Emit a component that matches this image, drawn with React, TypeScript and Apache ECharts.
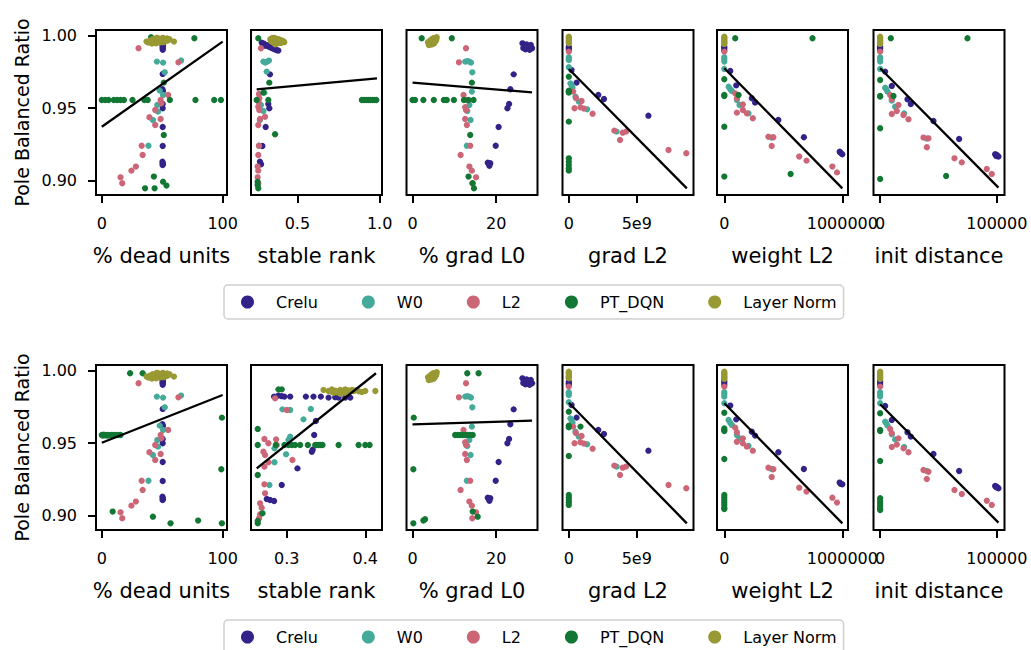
import React, { useEffect, useRef } from "react";
import * as echarts from "echarts";

// ---------- names, colours, ticks ----------
const SERIES_NAMES = ["Crelu", "W0", "L2", "PT_DQN", "Layer Norm"];
const SERIES_COLORS = ["#332288", "#44AA99", "#CC6677", "#117733", "#999933"];
const METRIC_NAMES = ["% dead units", "stable rank", "% grad L0", "grad L2", "weight L2", "init distance"];
const Y_NAME = "Pole Balanced Ratio";
const Y_TICKS = [0.9, 0.95, 1.0];
const Y_TICK_LABELS = ["0.90", "0.95", "1.00"];
const Y_RANGE = [0.8901, 1.0039];

const X_RANGES_ROW1 = [[-4.8, 103.6], [0.2177, 1.0146], [-1.44, 29.9], [-0.465e9, 9.18e9], [-61800, 1048000], [-5700, 106600]];
const X_RANGES_ROW2 = [[-4.8, 103.6], [0.2544, 0.4213], [-1.44, 29.9], [-0.465e9, 9.18e9], [-61800, 1048000], [-5700, 106600]];
const X_TICKS_ROW1 = [[0, 100], [0.5, 1.0], [0, 20], [0, 5e9], [0, 1000000], [0, 100000]];
const X_TICKS_ROW2 = [[0, 100], [0.3, 0.4], [0, 20], [0, 5e9], [0, 1000000], [0, 100000]];
const X_TICK_LABELS_ROW1 = [["0", "100"], ["0.5", "1.0"], ["0", "20"], ["0", "5e9"], ["0", "1000000"], ["0", "100000"]];
const X_TICK_LABELS_ROW2 = [["0", "100"], ["0.3", "0.4"], ["0", "20"], ["0", "5e9"], ["0", "1000000"], ["0", "100000"]];

// ---------- % dead units ----------
const CRELU_DEAD = [[50.4,0.9947],[50.2,0.9938],[50.6,0.9929],[50.3,0.992],[50.5,0.9911],[50.4,0.9903],[50.4,0.9736],[50.2,0.963],[50.6,0.9618],[50.4,0.9529],[50.4,0.9499],[50.4,0.937],[50.4,0.9239],[50.2,0.9131],[50.5,0.912],[50.3,0.9108],[50.6,0.9113]];
const W0_DEAD = [[45.6,0.9821],[50.7,0.9814],[65.6,0.9828],[52.1,0.9747],[47.9,0.9621],[50.7,0.9591],[45.9,0.9522],[46.5,0.9476],[42.3,0.9418],[38.6,0.9241]];
const L2_DEAD = [[30.4,0.9913],[63.4,0.9816],[54.9,0.9591],[48.7,0.9556],[49.3,0.9533],[44.2,0.9487],[39.4,0.9437],[48.7,0.9425],[44.2,0.9384],[33.0,0.9241],[33.8,0.9177],[28.2,0.9097],[24.5,0.9069],[15.5,0.9023],[16.9,0.8982]];
const LN_DEAD = [[37,0.9959],[38.5,0.9952],[40,0.9966],[41.5,0.9945],[42,0.9975],[43.5,0.9959],[44.5,0.997],[45,0.9947],[46.5,0.9982],[47,0.9963],[48,0.9952],[49,0.9977],[49.5,0.9966],[50.5,0.9985],[51,0.9955],[52,0.9973],[53,0.9962],[54,0.998],[55,0.9968],[56,0.9975],[45.5,0.9985],[59.7,0.9959]];
const DQN_R1_DEAD = [[40.8,0.9989],[76.6,0.9982],[0,0.9556],[2.8,0.9556],[5.6,0.9556],[9.9,0.9556],[12.7,0.9556],[15.5,0.9556],[18.3,0.9556],[25.4,0.9556],[35.2,0.9556],[38,0.9556],[56.3,0.9556],[77.5,0.9556],[93,0.9556],[98.6,0.9556],[51.3,0.9676],[51.3,0.9315],[43.1,0.9028],[50.7,0.8993],[35.8,0.8947],[43.7,0.8947],[53.5,0.8966]];
const DQN_R2_DEAD = [[23.4,0.9982],[33.8,0.9982],[0,0.9556],[0.8,0.9552],[1.6,0.9558],[2.5,0.9554],[3.4,0.9556],[4.5,0.9552],[5.5,0.9556],[6.8,0.9554],[8.2,0.9556],[10,0.9556],[12,0.9556],[14,0.9556],[15.5,0.9556],[99.4,0.9676],[98.9,0.932],[9,0.9028],[42.3,0.8993],[56.9,0.8947],[79.7,0.8966],[99.4,0.8947]];
const FIT_R1_DEAD = [[0,0.9372],[100,0.9959]];
const FIT_R2_DEAD = [[0,0.9503],[100,0.9832]];

// ---------- stable rank (row 1) ----------
const CRELU_R1_SR = [[0.283,0.9952],[0.29,0.994],[0.297,0.9945],[0.305,0.993],[0.315,0.9935],[0.325,0.9925],[0.335,0.992],[0.345,0.9915],[0.355,0.991],[0.365,0.9905],[0.375,0.99],[0.384,0.9897],[0.333,0.9733],[0.323,0.9529],[0.329,0.9499],[0.307,0.937],[0.287,0.9239],[0.272,0.9131],[0.279,0.9113]];
const W0_R1_SR = [[0.293,0.9821],[0.305,0.9814],[0.315,0.9821],[0.327,0.9828],[0.313,0.9752],[0.299,0.9607],[0.278,0.9522],[0.293,0.948],[0.272,0.9418],[0.266,0.9241]];
const L2_R1_SR = [[0.278,0.9913],[0.266,0.9598],[0.268,0.9568],[0.264,0.9545],[0.262,0.951],[0.268,0.9487],[0.303,0.9441],[0.272,0.9425],[0.262,0.9384],[0.266,0.9241],[0.262,0.9177],[0.258,0.9097],[0.262,0.9069],[0.258,0.9023],[0.262,0.8982]];
const LN_R1_SR = [[0.335,0.9975],[0.345,0.9982],[0.355,0.9985],[0.365,0.998],[0.375,0.9978],[0.385,0.9975],[0.395,0.997],[0.405,0.9966],[0.415,0.9962],[0.42,0.9955],[0.34,0.9962],[0.35,0.9955],[0.36,0.995],[0.37,0.9945],[0.38,0.9947],[0.39,0.9955],[0.4,0.995],[0.41,0.9958],[0.355,0.9968],[0.375,0.9962],[0.395,0.996],[0.365,0.994]];
const DQN_R1_SR = [[0.262,0.9982],[0.329,0.9676],[0.364,0.932],[0.252,0.9556],[0.323,0.9556],[0.293,0.9607],[0.892,0.9556],[0.905,0.9556],[0.918,0.9556],[0.93,0.9556],[0.942,0.9556],[0.955,0.9556],[0.968,0.9556],[0.98,0.9556],[0.258,0.8993],[0.262,0.8947],[0.258,0.897]];
const FIT_R1_SR = [[0.252,0.963],[0.984,0.9706]];

// ---------- stable rank (row 2) ----------
const CRELU_R2_SR = [[0.2838,0.9821],[0.2894,0.9828],[0.2936,0.9824],[0.297,0.9821],[0.3043,0.9821],[0.3243,0.9821],[0.334,0.9821],[0.3434,0.9821],[0.3532,0.9814],[0.3617,0.9817],[0.366,0.9814],[0.3745,0.9814],[0.3809,0.9814],[0.337,0.9653],[0.3349,0.9556],[0.3319,0.9441],[0.333,0.9455],[0.3136,0.9326],[0.2936,0.9211],[0.2745,0.9115],[0.2787,0.9108],[0.2838,0.9101]];
const W0_R2_SR = [[0.2945,0.9733],[0.3043,0.9729],[0.3306,0.9736],[0.3213,0.9664],[0.3043,0.9545],[0.3021,0.9522],[0.2843,0.9464],[0.2991,0.9423],[0.2843,0.9368],[0.2779,0.9211]];
const L2_R2_SR = [[0.2851,0.9809],[0.3,0.9729],[0.2715,0.9529],[0.2766,0.9499],[0.2864,0.9526],[0.2872,0.9487],[0.2702,0.9441],[0.2723,0.9418],[0.3072,0.9384],[0.2766,0.9368],[0.2715,0.9338],[0.2715,0.9216],[0.2723,0.9154],[0.266,0.9085],[0.268,0.9055],[0.266,0.9009],[0.2647,0.8982]];
const LN_R2_SR = [[0.3468,0.9867],[0.3532,0.986],[0.3574,0.9855],[0.3596,0.9848],[0.3617,0.9862],[0.3638,0.9851],[0.366,0.9858],[0.3681,0.9867],[0.3702,0.9853],[0.3723,0.9862],[0.3745,0.9871],[0.3766,0.9855],[0.3787,0.9864],[0.3809,0.9858],[0.383,0.9867],[0.3851,0.986],[0.3872,0.9864],[0.3915,0.9858],[0.3957,0.9853],[0.4,0.986],[0.4128,0.986],[0.3574,0.9871],[0.3681,0.9841],[0.3745,0.9848]];
const DQN_R2_SR = [[0.2894,0.9871],[0.2936,0.9871],[0.263,0.9598],[0.263,0.9487],[0.286,0.9487],[0.297,0.9487],[0.3021,0.9487],[0.3064,0.9487],[0.3106,0.9487],[0.317,0.9487],[0.3268,0.9487],[0.3362,0.9487],[0.3383,0.9487],[0.3404,0.9487],[0.3426,0.9487],[0.3455,0.9487],[0.366,0.9487],[0.3915,0.9487],[0.4,0.9487],[0.4055,0.9487],[0.263,0.928],[0.269,0.9016],[0.263,0.8963],[0.263,0.8947]];
const FIT_R2_SR = [[0.2617,0.9326],[0.4136,0.9982]];

// ---------- % grad L0 ----------
const CRELU_GL0 = [[26.3,0.9947],[26.8,0.9929],[27.3,0.994],[27.8,0.992],[28.3,0.9936],[28.6,0.9913],[27.0,0.9906],[26.5,0.9915],[28.0,0.9903],[27.5,0.993],[24.2,0.9733],[23.4,0.963],[23.1,0.9529],[22.7,0.9499],[20.6,0.937],[19.9,0.9241],[18.0,0.9124],[18.3,0.9113],[18.6,0.912],[18.4,0.9103]];
const W0_GL0 = [[12.6,0.9821],[13.1,0.9824],[13.6,0.9821],[14.0,0.9814],[14.3,0.9747],[14.2,0.9614],[13.6,0.9522],[13.1,0.948],[13.9,0.9418],[13.0,0.9241]];
const L2_GL0 = [[12.8,0.9913],[11.1,0.9816],[12.2,0.9591],[13.0,0.9556],[12.6,0.9506],[12.8,0.9487],[12.6,0.9425],[13.0,0.9384],[13.8,0.9241],[11.5,0.9177],[13.6,0.9097],[14.2,0.9069],[15.2,0.9023],[14.3,0.8982]];
const LN_GL0 = [[3.7,0.9955],[4.0,0.9945],[4.2,0.9965],[4.5,0.995],[4.6,0.9975],[4.8,0.996],[5.0,0.9982],[5.1,0.9945],[5.3,0.997],[5.5,0.9985],[5.7,0.9975],[5.8,0.999],[4.3,0.9938],[3.9,0.9935],[4.9,0.9968],[5.4,0.9958],[4.4,0.9958],[5.6,0.9966],[4.7,0.994],[5.2,0.9952]];
const DQN_R1_GL0 = [[2.2,0.9982],[9.4,0.9982],[0,0.9556],[0.6,0.9556],[2.6,0.9556],[5.1,0.9556],[7.5,0.9556],[8.2,0.9556],[9.9,0.9556],[12.3,0.9556],[13.4,0.9556],[14.6,0.9556],[14.2,0.9676],[13.8,0.9315],[13.4,0.9028],[14.4,0.8982],[14.7,0.8947]];
const DQN_R2_GL0 = [[13.1,0.9982],[15.8,0.9982],[0.3,0.9676],[10.2,0.9556],[10.8,0.9556],[11.4,0.9556],[12,0.9556],[12.6,0.9556],[13.2,0.9556],[13.8,0.9556],[14.4,0.9556],[0.2,0.932],[14.4,0.9028],[15.6,0.8993],[0.2,0.8947],[2.6,0.8966],[3.0,0.8975]];
const FIT_R1_GL0 = [[0,0.9676],[28.6,0.9609]];
const FIT_R2_GL0 = [[0,0.963],[28.6,0.9655]];

// ---------- grad L2 ----------
const CRELU_GL2 = [[0,0.9924],[0,0.9913],[0,0.9903],[0.2e9,0.9763],[0.57e9,0.9676],[2.17e9,0.9591],[2.59e9,0.9563],[5.86e9,0.9448]];
const W0_GL2 = [[0,0.9851],[0,0.984],[0,0.9832],[0,0.9782],[0.12e9,0.9671],[0.2e9,0.966],[0.27e9,0.9641],[0.49e9,0.9579],[0.74e9,0.9545],[1.35e9,0.9492],[3.52e9,0.9338]];
const L2_GL2 = [[0,0.989],[0.32e9,0.9614],[0.52e9,0.957],[0.94e9,0.9549],[0.42e9,0.9499],[0.86e9,0.9506],[1.11e9,0.9497],[1.75e9,0.9462],[3.35e9,0.9345],[3.77e9,0.928],[3.97e9,0.9331],[4.21e9,0.9338],[7.34e9,0.9211],[8.65e9,0.9189]];
const LN_GL2 = [[0,0.9993],[0,0.9985],[0,0.9978],[0,0.997],[0,0.9962],[0,0.9955],[0,0.9947]];
const DQN_R1_GL2 = [[0,0.9717],[0,0.9621],[0,0.9607],[0,0.9614],[0,0.9407],[0,0.9154],[0,0.9131],[0,0.9108],[0,0.9085],[0,0.9069]];
const DQN_R2_GL2 = [[0,0.9717],[0,0.9621],[0,0.9609],[0.86e9,0.9614],[0,0.9411],[0,0.9143],[0,0.9126],[0,0.9108],[0,0.9092],[0,0.9074]];
const FIT_R1_GL2 = [[0,0.977],[8.69e9,0.8947]];
const FIT_R2_GL2 = [[0,0.9779],[8.69e9,0.8947]];

// ---------- weight L2 ----------
const LN_WL2 = [[0,0.9993],[0,0.9985],[0,0.9978],[0,0.997],[0,0.9962],[0,0.9955],[0,0.9947],[0,0.9943]];
const CRELU_R1_WL2 = [[0,0.9924],[0,0.9913],[0,0.9897],[50600,0.9756],[101100,0.9657],[233100,0.9568],[261200,0.9538],[457900,0.9418],[674200,0.9299],[977500,0.92],[985000,0.9193],[1000000,0.9182]];
const W0_R1_WL2 = [[0,0.9851],[0,0.9837],[0,0.9821],[0,0.977],[36500,0.9648],[50600,0.963],[64600,0.9618],[106700,0.9556],[129200,0.9522],[205100,0.9464],[401700,0.9297]];
const L2_R1_WL2 = [[0,0.989],[92700,0.9602],[106700,0.9568],[157300,0.9526],[106700,0.9469],[157300,0.9487],[191000,0.9464],[241600,0.943],[373600,0.9303],[415700,0.9299],[401700,0.9239],[634800,0.9166],[696600,0.9138],[915700,0.9097],[955100,0.9057]];
const DQN_R1_WL2 = [[92700,0.9982],[747200,0.9982],[0,0.9699],[0,0.9591],[0,0.9584],[120800,0.9591],[0,0.9372],[0,0.9028],[561800,0.9046]];
const FIT_R1_WL2 = [[0,0.9775],[1000000,0.8947]];
const CRELU_R2_WL2 = [[0,0.9929],[0,0.9917],[0,0.9901],[50600,0.9759],[101100,0.9664],[233100,0.9579],[261200,0.9552],[457900,0.9437],[674200,0.9322],[977500,0.9228],[985000,0.922],[1000000,0.9216]];
const W0_R2_WL2 = [[0,0.9851],[0,0.9837],[0,0.9821],[0,0.9775],[36500,0.966],[50600,0.9641],[64600,0.9625],[106700,0.9556],[129200,0.9533],[205100,0.948],[401700,0.9322]];
const L2_R2_WL2 = [[0,0.989],[92700,0.9607],[106700,0.9575],[157300,0.9533],[106700,0.951],[157300,0.9499],[191000,0.9476],[241600,0.9448],[373600,0.9331],[415700,0.932],[401700,0.9266],[634800,0.9193],[696600,0.9166],[915700,0.9124],[955100,0.909]];
const DQN_R2_WL2 = [[0,0.971],[0,0.9602],[0,0.9591],[0,0.9584],[0,0.9391],[0,0.9143],[0,0.9126],[0,0.9108],[0,0.909],[0,0.9074],[0,0.9055],[0,0.9046]];
const FIT_R2_WL2 = [[0,0.9775],[1000000,0.8947]];

// ---------- init distance ----------
const LN_ID = [[0,0.9993],[0,0.9985],[0,0.9978],[0,0.997],[0,0.9962],[0,0.9955],[0,0.9947],[0,0.9943]];
const CRELU_R1_ID = [[0,0.9924],[0,0.9913],[0,0.9897],[4290,0.9752],[10000,0.9653],[23430,0.9561],[26290,0.9529],[45710,0.9411],[67710,0.9287],[98570,0.9182],[100000,0.9177],[101420,0.9166],[99500,0.917]];
const W0_R1_ID = [[0,0.9851],[0,0.9837],[0,0.9821],[0,0.977],[4290,0.9641],[5300,0.963],[6290,0.9614],[10000,0.9552],[12860,0.951],[20570,0.9464],[40000,0.929]];
const L2_R1_ID = [[0,0.989],[8570,0.9591],[10000,0.9561],[15710,0.9522],[10000,0.946],[14290,0.948],[20000,0.9453],[24290,0.9423],[37140,0.9297],[41430,0.9292],[40000,0.923],[63710,0.9154],[70000,0.9126],[91420,0.908],[95710,0.9046]];
const DQN_R1_ID = [[9140,0.9982],[74850,0.9982],[0,0.9694],[0,0.9584],[0,0.958],[11430,0.9584],[0,0.9361],[0,0.9011],[56570,0.9032]];
const FIT_R1_ID = [[0,0.9775],[101420,0.8952]];
const CRELU_R2_ID = [[0,0.9929],[0,0.9917],[0,0.9901],[4290,0.9756],[10000,0.966],[23430,0.9575],[26290,0.9545],[45710,0.9425],[67710,0.9308],[98570,0.9205],[100000,0.92],[101420,0.9189],[99500,0.9195]];
const W0_R2_ID = [[0,0.9851],[0,0.9837],[0,0.9821],[0,0.9775],[4290,0.9648],[5300,0.9637],[6290,0.9621],[10000,0.9561],[12860,0.9526],[20570,0.9473],[40000,0.9308]];
const L2_R2_ID = [[0,0.989],[8570,0.9598],[10000,0.9568],[15710,0.9533],[10000,0.9473],[14290,0.949],[20000,0.9464],[24290,0.9437],[37140,0.9315],[41430,0.9303],[40000,0.9253],[63710,0.9177],[70000,0.9149],[91420,0.9103],[95710,0.9074]];
const DQN_R2_ID = [[0,0.9706],[0,0.9591],[0,0.9584],[0,0.9377],[0,0.912],[0,0.9101],[0,0.9085],[0,0.9069],[0,0.9051],[0,0.9039]];
const FIT_R2_ID = [[0,0.9768],[101420,0.8952]];

// ---------- panel tables (order: Crelu, W0, L2, PT_DQN, Layer Norm) ----------
const ROW1_PANELS = [
  [CRELU_DEAD, W0_DEAD, L2_DEAD, DQN_R1_DEAD, LN_DEAD],
  [CRELU_R1_SR, W0_R1_SR, L2_R1_SR, DQN_R1_SR, LN_R1_SR],
  [CRELU_GL0, W0_GL0, L2_GL0, DQN_R1_GL0, LN_GL0],
  [CRELU_GL2, W0_GL2, L2_GL2, DQN_R1_GL2, LN_GL2],
  [CRELU_R1_WL2, W0_R1_WL2, L2_R1_WL2, DQN_R1_WL2, LN_WL2],
  [CRELU_R1_ID, W0_R1_ID, L2_R1_ID, DQN_R1_ID, LN_ID],
];
const ROW2_PANELS = [
  [CRELU_DEAD, W0_DEAD, L2_DEAD, DQN_R2_DEAD, LN_DEAD],
  [CRELU_R2_SR, W0_R2_SR, L2_R2_SR, DQN_R2_SR, LN_R2_SR],
  [CRELU_GL0, W0_GL0, L2_GL0, DQN_R2_GL0, LN_GL0],
  [CRELU_GL2, W0_GL2, L2_GL2, DQN_R2_GL2, LN_GL2],
  [CRELU_R2_WL2, W0_R2_WL2, L2_R2_WL2, DQN_R2_WL2, LN_WL2],
  [CRELU_R2_ID, W0_R2_ID, L2_R2_ID, DQN_R2_ID, LN_ID],
];
const ROW1_FITS = [FIT_R1_DEAD, FIT_R1_SR, FIT_R1_GL0, FIT_R1_GL2, FIT_R1_WL2, FIT_R1_ID];
const ROW2_FITS = [FIT_R2_DEAD, FIT_R2_SR, FIT_R2_GL0, FIT_R2_GL2, FIT_R2_WL2, FIT_R2_ID];

// ---------- layout ----------
const GRID_LEFTS = [96, 251, 406.5, 562.5, 717, 873.5];
const GRID_WIDTH = 131;
const GRID_HEIGHT = 165;
const ROW_TOPS = [30, 365];
const LEGEND_TOPS = [285, 620];
const FONT = "DejaVu Sans";

function labelFor(ticks: number[], labels: string[]) {
  return (v: number) => {
    for (let i = 0; i < ticks.length; i++) {
      if (Math.abs(v - ticks[i]) <= Math.abs(ticks[ticks.length - 1] - ticks[0]) * 1e-6 + 1e-12) return labels[i];
    }
    return "";
  };
}

function buildOption() {
  const grid: any[] = [];
  const xAxis: any[] = [];
  const yAxis: any[] = [];
  const series: any[] = [];
  const rows = [
    { panels: ROW1_PANELS, fits: ROW1_FITS, ranges: X_RANGES_ROW1, ticks: X_TICKS_ROW1, labels: X_TICK_LABELS_ROW1 },
    { panels: ROW2_PANELS, fits: ROW2_FITS, ranges: X_RANGES_ROW2, ticks: X_TICKS_ROW2, labels: X_TICK_LABELS_ROW2 },
  ];
  rows.forEach((row, r) => {
    for (let c = 0; c < 6; c++) {
      const idx = r * 6 + c;
      grid.push({
        left: GRID_LEFTS[c],
        top: ROW_TOPS[r],
        width: GRID_WIDTH,
        height: GRID_HEIGHT,
        show: true,
        borderColor: "#000",
        borderWidth: 2,
        backgroundColor: "transparent",
      });
      xAxis.push({
        type: "value",
        gridIndex: idx,
        min: row.ranges[c][0],
        max: row.ranges[c][1],
        axisLine: { show: false, onZero: false },
        splitLine: { show: false },
        axisTick: {
          show: true,
          length: 8,
          lineStyle: { color: "#000", width: 2 },
          customValues: row.ticks[c],
        },
        axisLabel: {
          show: true,
          customValues: row.ticks[c],
          formatter: labelFor(row.ticks[c], row.labels[c]),
          fontSize: 16,
          color: "#000",
          fontFamily: FONT,
          margin: 20,
        },
        name: METRIC_NAMES[c],
        nameLocation: "middle",
        nameGap: 50,
        nameTextStyle: { fontSize: 21, color: "#000", fontFamily: FONT },
      });
      const first = c === 0;
      yAxis.push({
        type: "value",
        gridIndex: idx,
        min: Y_RANGE[0],
        max: Y_RANGE[1],
        axisLine: { show: false, onZero: false },
        splitLine: { show: false },
        axisTick: {
          show: first,
          length: 8,
          lineStyle: { color: "#000", width: 2 },
          customValues: Y_TICKS,
        },
        axisLabel: {
          show: first,
          customValues: Y_TICKS,
          formatter: labelFor(Y_TICKS, Y_TICK_LABELS),
          fontSize: 16,
          color: "#000",
          fontFamily: FONT,
          margin: 19,
        },
        name: first ? Y_NAME : "",
        nameLocation: "middle",
        nameRotate: 90,
        nameGap: 65,
        nameTextStyle: { fontSize: 19, color: "#000", fontFamily: FONT },
      });
      row.panels[c].forEach((pts, s) => {
        series.push({
          type: "scatter",
          name: SERIES_NAMES[s],
          xAxisIndex: idx,
          yAxisIndex: idx,
          data: pts,
          symbol: "circle",
          symbolSize: 6.3,
          itemStyle: { color: SERIES_COLORS[s], opacity: 1 },
          z: 2,
          silent: true,
        });
      });
      series.push({
        type: "line",
        name: "fit",
        xAxisIndex: idx,
        yAxisIndex: idx,
        data: row.fits[c],
        symbol: "none",
        lineStyle: { color: "#000", width: 2.3 },
        z: 3,
        silent: true,
      });
    }
  });

  const legend = LEGEND_TOPS.map((top) => ({
    data: SERIES_NAMES,
    left: 224,
    top,
    orient: "horizontal",
    icon: "circle",
    itemWidth: 13,
    itemHeight: 13,
    itemGap: 44,
    padding: [9, 7, 9, 17],
    borderColor: "#cfcfcf",
    borderWidth: 1.5,
    borderRadius: 4,
    backgroundColor: "#fff",
    selectedMode: false,
    textStyle: { fontSize: 16, color: "#000", fontFamily: FONT, padding: [0, 0, 0, 17] },
  }));

  return {
    animation: false,
    backgroundColor: "#fff",
    textStyle: { fontFamily: FONT },
    grid,
    xAxis,
    yAxis,
    series,
    legend,
  };
}

export default function App() {
  const ref = useRef<HTMLDivElement>(null);
  useEffect(() => {
    if (!ref.current) return;
    const chart = echarts.init(ref.current, undefined, { renderer: "svg" });
    chart.setOption(buildOption() as any);
    return () => chart.dispose();
  }, []);
  return (
    <div
      ref={ref}
      style={{ position: "absolute", left: 0, top: 0, width: 1031, height: 650 }}
    />
  );
}
